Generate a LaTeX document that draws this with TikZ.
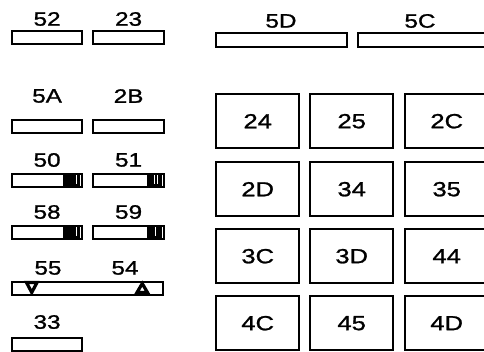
\documentclass[tikz,border=0pt]{standalone}
\usepackage{fontspec}
\newfontfamily\labfont[FakeStretch=1.25,FakeBold=1.2]{Liberation Sans}
\begin{document}
\begin{tikzpicture}[x=1bp,y=-1bp,
  fuse/.style={draw=black,line width=2.2bp,minimum width=70bp,minimum height=13bp,inner sep=0pt,anchor=north west},
  relay/.style={draw=black,line width=2.4bp,minimum width=83bp,minimum height=54bp,inner sep=0pt,anchor=north west,font=\fontsize{20.5}{20.5}\labfont},
  lab/.style={inner sep=0pt,font=\fontsize{19.5}{19.5}\labfont},
  blk/.style={fill=black},
  tri/.style={draw=black,line width=3.2bp,line join=miter}]
\useasboundingbox (0,0) rectangle (484,351);
\begin{scope}
\clip (0,0) rectangle (484,351);
% top row small fuses
\node[fuse] (f52) at (11,30) {};
\node[fuse,minimum width=71bp] (f23) at (92,30) {};
\node[lab] (l52) at (f52.north |- 0,19) {52};
\node[lab] (l23) at (f23.north |- 0,19) {23};
% 5A 2B
\node[fuse] (f5A) at (11,119) {};
\node[fuse,minimum width=71bp] (f2B) at (92,119) {};
\node[lab] (l5A) at (f5A.north |- 0,96) {5A};
\node[lab] (l2B) at (f2B.north |- 0,96) {2B};
% 50 51
\node[fuse] (f50) at (11,173) {};
\node[fuse,minimum width=71bp] (f51) at (92,173) {};
\fill[blk] (63,173) rectangle (80,186);
\draw[white,line width=1bp] (76.5,175) -- (76.5,184);
\fill[blk] (147,173) rectangle (162,186);
\draw[white,line width=0.8bp] (154,175) -- (154,184);
\draw[white,line width=0.8bp] (157,175) -- (157,184);
\node[lab] (l50) at (f50.north |- 0,160) {50};
\node[lab] (l51) at (f51.north |- 0,160) {51};
% 58 59
\node[fuse] (f58) at (11,225) {};
\node[fuse,minimum width=71bp] (f59) at (92,225) {};
\fill[blk] (63,225) rectangle (80,238);
\draw[white,line width=1bp] (76.5,227) -- (76.5,236);
\fill[blk] (147,225) rectangle (162,238);
\draw[white,line width=0.8bp] (155,227) -- (155,236);
\node[lab] (l58) at (f58.north |- 0,212) {58};
\node[lab] (l59) at (f59.north |- 0,212) {59};
% 55 54 long fuse
\node[fuse,minimum width=151bp] (f55) at (11,281) {};
\draw[tri] (26.5,282.5) -- (37,282.5) -- (31.75,292.5) -- cycle;
\draw[tri] (137,292.5) -- (147.5,292.5) -- (142.25,283.5) -- cycle;
\node[lab] (l55) at (48,268) {55};
\node[lab] (l54) at (125,268) {54};
% 33
\node[fuse] (f33) at (11,337) {};
\node[lab] (l33) at (f33.north |- 0,322) {33};
% 5D 5C
\node[fuse,minimum width=131bp,minimum height=14bp] (f5D) at (215,32) {};
\node[fuse,minimum width=130bp,minimum height=14bp] (f5C) at (357,32) {};
\node[lab] (l5D) at (281,21) {5D};
\node[lab] (l5C) at (420,21) {5C};
% relay grid
\node[relay] (r24) at (215,93) {24};
\node[relay] (r25) at (309,93) {25};
\node[relay] (r2C) at (404,93) {2C};
\node[relay] (r2D) at (215,161) {2D};
\node[relay] (r34) at (309,161) {34};
\node[relay] (r35) at (404,161) {35};
\node[relay] (r3C) at (215,228) {3C};
\node[relay] (r3D) at (309,228) {3D};
\node[relay] (r44) at (404,228) {44};
\node[relay] (r4C) at (215,295) {4C};
\node[relay] (r45) at (309,295) {45};
\node[relay] (r4D) at (404,295) {4D};
\end{scope}
\end{tikzpicture}
\end{document}
